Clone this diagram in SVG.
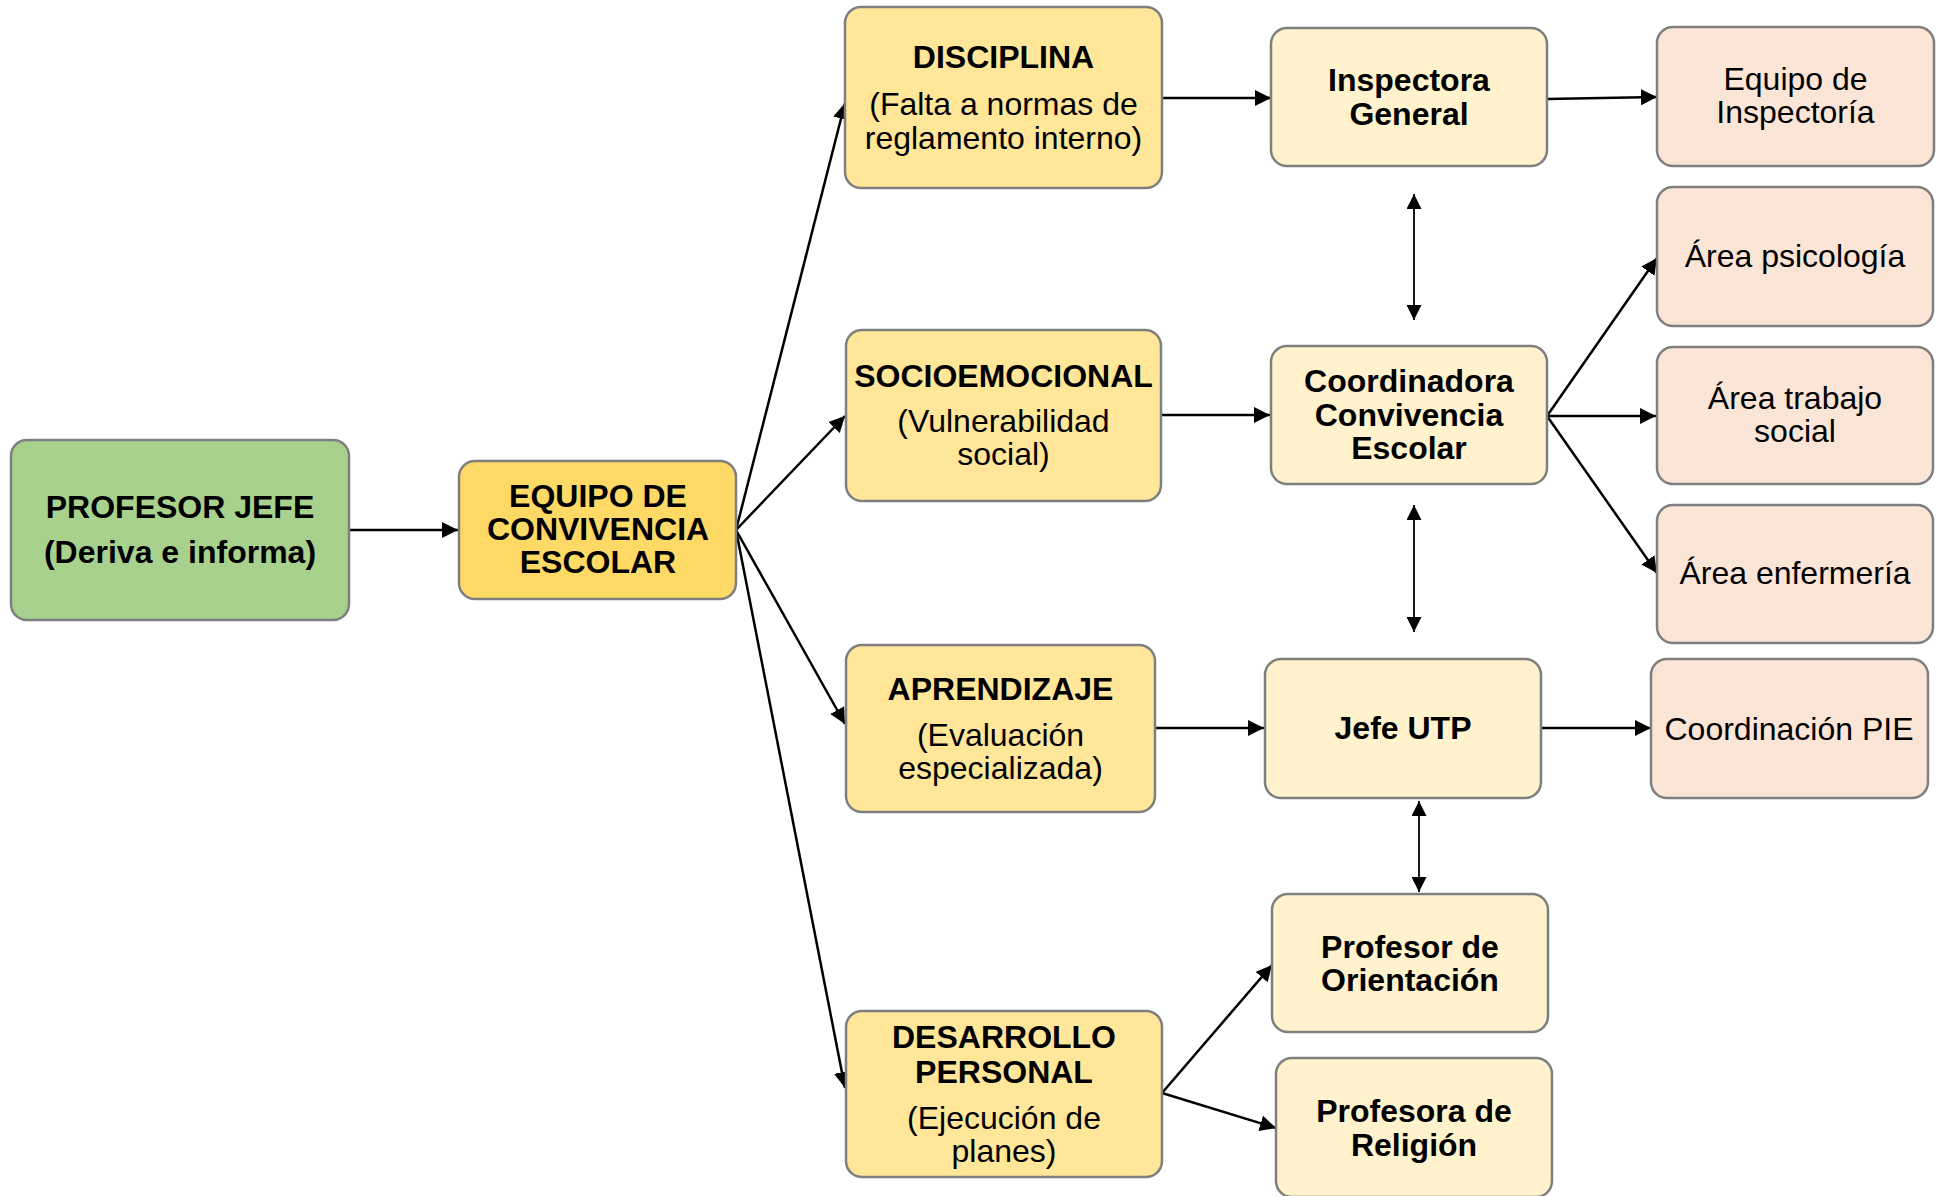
<svg xmlns="http://www.w3.org/2000/svg" width="1942" height="1196" viewBox="0 0 1942 1196">
<defs>
<marker id="ah" viewBox="0 0 16 16" refX="16" refY="8" markerWidth="16" markerHeight="16" markerUnits="userSpaceOnUse" orient="auto-start-reverse">
<path d="M0,0 L16,8 L0,16 z" fill="#000"/>
</marker>
<marker id="ah2" viewBox="0 0 16 16" refX="16" refY="8" markerWidth="15" markerHeight="15" markerUnits="userSpaceOnUse" orient="auto-start-reverse">
<path d="M0,0 L16,8 L0,16 z" fill="#000"/>
</marker>
<style>
.box{stroke:#7f7f7f;stroke-width:2.5}
.green{fill:#a9d18e}
.gold{fill:#ffd966}
.cat{fill:#ffe699}
.sec{fill:#fff2cc}
.pink{fill:#fbe5d6}
text{font-family:"Liberation Sans",Arial,sans-serif;font-size:32px;fill:#000;text-anchor:middle}
.b{font-weight:bold}
.c line{stroke:#000;stroke-width:2.5;fill:none;marker-end:url(#ah)}
.c line.d{stroke-width:1.8;marker-start:url(#ah2);marker-end:url(#ah2)}
</style>
</defs>
<g id="connectors" class="c">
<line x1="349" y1="530" x2="458" y2="530"/>
<line x1="736" y1="530" x2="845" y2="103"/>
<line x1="736" y1="530" x2="845" y2="416"/>
<line x1="736" y1="530" x2="845" y2="724"/>
<line x1="736" y1="530" x2="845" y2="1088"/>
<line x1="1162" y1="98" x2="1271" y2="98"/>
<line x1="1547" y1="99" x2="1657" y2="97"/>
<line x1="1161" y1="415" x2="1270" y2="415"/>
<line x1="1547" y1="416" x2="1657" y2="258"/>
<line x1="1547" y1="416" x2="1656" y2="416"/>
<line x1="1547" y1="416" x2="1657" y2="573"/>
<line x1="1155" y1="728" x2="1264" y2="728"/>
<line x1="1541" y1="728" x2="1651" y2="728"/>
<line x1="1162" y1="1093" x2="1272" y2="965"/>
<line x1="1162" y1="1093" x2="1276" y2="1128"/>
<line class="d" x1="1414" y1="194" x2="1414" y2="320"/>
<line class="d" x1="1414" y1="505" x2="1414" y2="632"/>
<line class="d" x1="1419" y1="801" x2="1419" y2="892"/>
</g>
<g id="profesor-jefe">
<rect class="box green" x="11" y="440" width="338" height="180" rx="16"/>
<text class="b" x="180" y="518">PROFESOR JEFE</text>
<text class="b" x="180" y="563">(Deriva e informa)</text>
</g>
<g id="equipo-convivencia">
<rect class="box gold" x="459" y="461" width="277" height="138" rx="16"/>
<text class="b" x="598" y="507">EQUIPO DE</text>
<text class="b" x="598" y="540">CONVIVENCIA</text>
<text class="b" x="598" y="573">ESCOLAR</text>
</g>
<g id="disciplina">
<rect class="box cat" x="845" y="7" width="317" height="181" rx="16"/>
<text class="b" x="1003.5" y="68">DISCIPLINA</text>
<text x="1003.5" y="115">(Falta a normas de</text>
<text x="1003.5" y="149">reglamento interno)</text>
</g>
<g id="socioemocional">
<rect class="box cat" x="846" y="330" width="315" height="171" rx="16"/>
<text class="b" x="1003.5" y="387">SOCIOEMOCIONAL</text>
<text x="1003.5" y="432">(Vulnerabilidad</text>
<text x="1003.5" y="465">social)</text>
</g>
<g id="aprendizaje">
<rect class="box cat" x="846" y="645" width="309" height="167" rx="16"/>
<text class="b" x="1000.5" y="700">APRENDIZAJE</text>
<text x="1000.5" y="746">(Evaluación</text>
<text x="1000.5" y="779">especializada)</text>
</g>
<g id="desarrollo-personal">
<rect class="box cat" x="846" y="1011" width="316" height="166" rx="16"/>
<text class="b" x="1004" y="1048">DESARROLLO</text>
<text class="b" x="1004" y="1083">PERSONAL</text>
<text x="1004" y="1129">(Ejecución de</text>
<text x="1004" y="1162">planes)</text>
</g>
<g id="inspectora-general">
<rect class="box sec" x="1271" y="28" width="276" height="138" rx="16"/>
<text class="b" x="1409" y="91">Inspectora</text>
<text class="b" x="1409" y="125">General</text>
</g>
<g id="coordinadora-convivencia">
<rect class="box sec" x="1271" y="346" width="276" height="138" rx="16"/>
<text class="b" x="1409" y="392">Coordinadora</text>
<text class="b" x="1409" y="426">Convivencia</text>
<text class="b" x="1409" y="459">Escolar</text>
</g>
<g id="jefe-utp">
<rect class="box sec" x="1265" y="659" width="276" height="139" rx="16"/>
<text class="b" x="1403" y="739">Jefe UTP</text>
</g>
<g id="profesor-orientacion">
<rect class="box sec" x="1272" y="894" width="276" height="138" rx="16"/>
<text class="b" x="1410" y="958">Profesor de</text>
<text class="b" x="1410" y="991">Orientación</text>
</g>
<g id="profesora-religion">
<rect class="box sec" x="1276" y="1058" width="276" height="139" rx="16"/>
<text class="b" x="1414" y="1122">Profesora de</text>
<text class="b" x="1414" y="1156">Religión</text>
</g>
<g id="equipo-inspectoria">
<rect class="box pink" x="1657" y="27" width="277" height="139" rx="16"/>
<text x="1795.5" y="90">Equipo de</text>
<text x="1795.5" y="123">Inspectoría</text>
</g>
<g id="area-psicologia">
<rect class="box pink" x="1657" y="187" width="276" height="139" rx="16"/>
<text x="1795" y="267">Área psicología</text>
</g>
<g id="area-trabajo-social">
<rect class="box pink" x="1657" y="347" width="276" height="137" rx="16"/>
<text x="1795" y="409">Área trabajo</text>
<text x="1795" y="442">social</text>
</g>
<g id="area-enfermeria">
<rect class="box pink" x="1657" y="505" width="276" height="138" rx="16"/>
<text x="1795" y="584">Área enfermería</text>
</g>
<g id="coordinacion-pie">
<rect class="box pink" x="1651" y="659" width="277" height="139" rx="16"/>
<text x="1789" y="740">Coordinación PIE</text>
</g>
</svg>
